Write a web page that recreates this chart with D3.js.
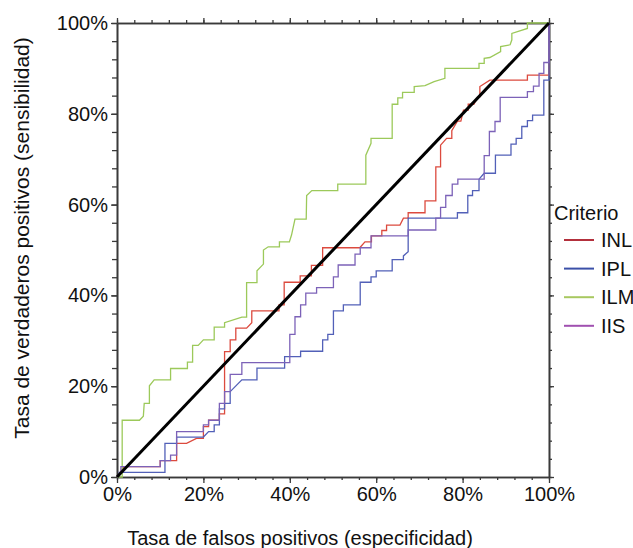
<!DOCTYPE html>
<html>
<head>
<meta charset="utf-8">
<script src="https://cdn.jsdelivr.net/npm/d3@7"></script>
<style>
  body { margin: 0; background: #fff; }
  text { font-family: "Liberation Sans", Arial, Helvetica, sans-serif; fill: #111; }
</style>
</head>
<body>
<svg id="chart" width="633" height="548"></svg>
<script>
// Data -------------------------------------------------------------------------
// each point: [tasa de falsos positivos %, tasa de verdaderos positivos %]

const inl = [[0,0],[1.6,2.3],[10.0,2.3],[10.0,3.6],[13.8,3.6],[13.8,7.4],[16.1,7.4],[18.4,8.5],
  [20.0,8.5],[20.0,11.1],[21.2,11.1],[21.2,12.5],[23.7,12.5],[23.7,13.9],[24.9,13.9],[24.9,27.6],
  [26.2,27.6],[26.2,30.2],[27.5,30.2],[27.5,32.8],[30.0,32.8],[31.2,34.0],[31.2,36.6],[37.5,36.6],
  [37.5,37.9],[38.7,37.9],[38.7,42.9],[42.4,42.9],[42.4,44.3],[45.0,44.3],[45.0,46.6],[47.6,46.6],
  [47.6,50.5],[56.2,50.5],[57.4,51.8],[58.9,51.8],[58.9,53.1],[61.3,53.1],[61.3,54.3],[62.4,54.3],
  [62.4,55.5],[65.5,55.5],[66.3,57.0],[67.4,57.0],[67.4,58.2],[71.3,58.2],[71.3,60.8],[73.8,60.8],
  [73.8,68.3],[74.9,68.3],[74.9,73.1],[76.3,74.6],[77.5,74.6],[77.5,76.3],[78.8,78.4],[79.6,78.4],
  [80.2,80.8],[81.3,80.8],[81.3,82.1],[82.6,82.1],[83.6,83.8],[84.0,83.8],[84.0,86.0],[86.3,87.4],
  [95.0,87.4],[95.0,88.5],[100,88.5],[100,100]];

const ipl = [[0,0],[0.5,0],[0.5,1.0],[11.1,1.0],[11.1,7.4],[13.8,7.4],[13.8,8.8],[20.0,8.8],
  [21.2,10.0],[22.5,10.0],[22.5,11.5],[23.7,11.5],[23.7,15.0],[24.9,15.0],[24.9,16.2],[26.2,16.2],
  [26.2,18.8],[28.9,21.4],[32.4,21.4],[32.4,24.0],[38.8,24.0],[38.8,26.5],[42.5,26.5],[42.5,27.7],
  [47.6,27.7],[47.6,30.2],[48.8,30.2],[48.8,31.4],[50.1,31.4],[50.1,36.6],[52.4,36.6],[52.4,37.9],
  [56.3,37.9],[56.3,42.9],[58.8,42.9],[58.8,44.1],[60.0,44.1],[60.0,45.4],[63.7,45.4],[63.7,47.9],
  [66.3,47.9],[66.3,48.7],[67.4,49.6],[67.4,57.0],[78.8,57.0],[78.8,58.2],[81.2,58.2],[81.2,62.0],
  [82.3,62.0],[82.3,63.1],[83.8,63.1],[83.8,65.6],[85.0,66.9],[87.6,66.9],[87.6,70.9],[91.2,70.9],
  [91.2,73.3],[92.4,73.3],[92.4,74.6],[93.7,74.6],[93.7,77.2],[95.0,77.2],[95.0,78.5],[96.2,78.5],
  [96.2,79.7],[98.8,79.7],[98.8,87.4],[100,87.4],[100,100]];

const ilm = [[0,0],[1.2,0],[1.2,12.5],[5.2,12.5],[6.1,13.4],[6.3,16.2],[7.5,16.2],[7.5,20.1],
  [8.6,21.4],[12.4,21.4],[12.4,23.9],[16.3,23.9],[16.3,25.3],[17.5,25.3],[17.5,29.0],[18.8,29.0],
  [20.0,30.2],[22.5,30.2],[22.5,33.0],[24.9,33.0],[24.9,34.0],[28.9,35.2],[30.0,35.2],[30.0,42.8],
  [32.4,42.8],[32.4,45.4],[33.9,46.9],[33.9,50.0],[35.0,50.7],[37.6,50.7],[37.6,51.8],[39.9,51.8],
  [40.4,53.3],[41.2,56.8],[43.8,56.8],[43.9,62.0],[45.1,63.1],[51.1,63.1],[51.1,64.5],[57.6,64.5],
  [57.6,70.9],[58.8,73.5],[58.8,74.6],[63.7,74.6],[63.7,82.1],[65.0,82.1],[65.0,83.5],[66.1,83.5],
  [66.1,84.7],[68.8,84.7],[68.8,86.0],[71.3,86.2],[73.4,87.1],[75.9,87.8],[75.9,90.0],[83.8,90.0],
  [83.8,91.1],[85.0,91.1],[85.0,92.2],[86.3,92.4],[88.8,93.7],[88.8,94.8],[91.0,95.2],[91.4,96.3],
  [91.4,97.7],[95.0,98.8],[95.0,100],[100,100]];

const iis = [[0,0],[0.9,1.1],[0.9,2.3],[10.0,2.3],[10.0,3.6],[12.4,3.6],[12.4,4.8],[13.8,4.8],
  [13.8,10.0],[20.0,10.0],[20.0,11.5],[21.2,11.5],[21.2,12.5],[23.7,12.5],[23.7,16.2],[24.9,16.2],
  [24.9,18.8],[26.2,18.8],[26.2,22.6],[28.9,22.6],[28.9,25.2],[40.0,25.2],[40.0,31.4],[41.2,31.4],
  [41.2,35.3],[42.5,35.3],[42.5,37.9],[43.7,37.9],[43.7,40.5],[46.2,40.5],[46.2,41.7],[50.1,41.7],
  [50.1,44.1],[51.2,44.1],[51.2,46.7],[55.1,46.7],[55.1,49.1],[56.3,49.1],[56.3,50.5],[58.8,50.5],
  [58.8,53.1],[67.4,53.1],[67.4,54.4],[73.8,54.4],[73.8,57.0],[74.9,57.0],[74.9,59.4],[76.1,59.4],
  [76.1,62.0],[77.6,62.0],[77.6,64.5],[78.9,64.5],[78.9,65.6],[85.0,65.6],[85.0,70.8],[86.2,70.8],
  [86.2,76.1],[87.5,76.1],[87.5,78.3],[88.7,78.3],[88.7,83.6],[95.0,83.6],[95.0,84.9],[96.4,84.9],
  [96.4,86.1],[97.7,86.1],[97.7,88.9],[98.8,88.9],[98.8,91.3],[100,91.3],[100,100]];

const seriesNames = ["INL", "IPL", "ILM", "IIS"];
const seriesColors = ["#dc4a3e", "#5260b8", "#9cc95a", "#7c62b8"];
const legendColors = ["#b3303c", "#3b50a8", "#a8c860", "#a050b0"];

const majorTicks = [0, 20, 40, 60, 80, 100];
const minorTicks = [0,4,8,12,16,20,24,28,32,36,40,44,48,52,56,60,64,68,72,76,80,84,88,92,96,100];

const xTitle = "Tasa de falsos positivos (especificidad)";
const yTitle = "Tasa de verdaderos positivos (sensibilidad)";
const legendTitle = "Criterio";

// Chart ------------------------------------------------------------------------

const svg = d3.select("#chart");
const plotLeft = 117, plotRight = 549, plotTop = 23, plotBottom = 477;

const x = d3.scaleLinear().domain([0, 100]).range([plotLeft, plotRight]);
const y = d3.scaleLinear().domain([0, 100]).range([plotBottom, plotTop]);

function axisGroup(axis, tx, ty) {
    const g = svg.append("g").attr("transform", `translate(${tx},${ty})`).call(axis);
    g.select(".domain").attr("stroke", "#3a3a3a").attr("stroke-width", 1.6);
    g.selectAll(".tick line").attr("stroke", "#3a3a3a").attr("stroke-width", 1.3);
    g.selectAll(".tick text").style("font-size", "20px").attr("fill", "#111");
    return g;
}

const pct = d => d + "%";

// minor ticks on all four sides
axisGroup(d3.axisLeft(y).tickValues(minorTicks).tickSize(5).tickSizeOuter(0).tickFormat(""), plotLeft, 0);
axisGroup(d3.axisRight(y).tickValues(minorTicks).tickSize(3).tickSizeOuter(0).tickFormat(""), plotRight, 0);
axisGroup(d3.axisTop(x).tickValues(minorTicks).tickSize(3).tickSizeOuter(0).tickFormat(""), 0, plotTop);
axisGroup(d3.axisBottom(x).tickValues(minorTicks).tickSize(3).tickSizeOuter(0).tickFormat(""), 0, plotBottom);

// major ticks
axisGroup(d3.axisLeft(y).tickValues(majorTicks).tickSize(6).tickSizeOuter(0).tickPadding(3).tickFormat(pct), plotLeft, 0);
axisGroup(d3.axisRight(y).tickValues(majorTicks).tickSize(5).tickSizeOuter(0).tickFormat(""), plotRight, 0);
axisGroup(d3.axisTop(x).tickValues(majorTicks).tickSize(5).tickSizeOuter(0).tickFormat(""), 0, plotTop);
axisGroup(d3.axisBottom(x).tickValues(majorTicks).tickSize(6).tickSizeOuter(0).tickPadding(4).tickFormat(pct), 0, plotBottom);

// curves
const line = d3.line().x(d => x(d[0])).y(d => y(d[1]));
const allSeries = [inl, ipl, ilm, iis];

svg.append("g")
    .selectAll("path")
    .data(allSeries)
    .enter()
    .append("path")
    .attr("d", line)
    .attr("fill", "none")
    .attr("stroke", (d, i) => seriesColors[i])
    .attr("stroke-width", 1.3);

// reference diagonal
svg.append("path")
    .attr("d", line([[0, 0], [100, 100]]))
    .attr("stroke", "#000")
    .attr("stroke-width", 3);

// axis titles
svg.append("text")
    .attr("x", 300)
    .attr("y", 545)
    .attr("text-anchor", "middle")
    .style("font-size", "20px")
    .text(xTitle);

svg.append("text")
    .attr("transform", "translate(29,238) rotate(-90)")
    .attr("text-anchor", "middle")
    .style("font-size", "21px")
    .text(yTitle);

// legend
const legend = svg.append("g");
legend.append("text")
    .attr("x", 554)
    .attr("y", 220)
    .style("font-size", "20px")
    .text(legendTitle);

seriesNames.forEach(function (name, i) {
    const ly = 240 + i * 28.6;
    legend.append("line")
        .attr("x1", 564).attr("x2", 594)
        .attr("y1", ly).attr("y2", ly)
        .attr("stroke", legendColors[i])
        .attr("stroke-width", 2);
    legend.append("text")
        .attr("x", 601)
        .attr("y", ly + 7)
        .style("font-size", "20px")
        .text(name);
});
</script>
</body>
</html>
